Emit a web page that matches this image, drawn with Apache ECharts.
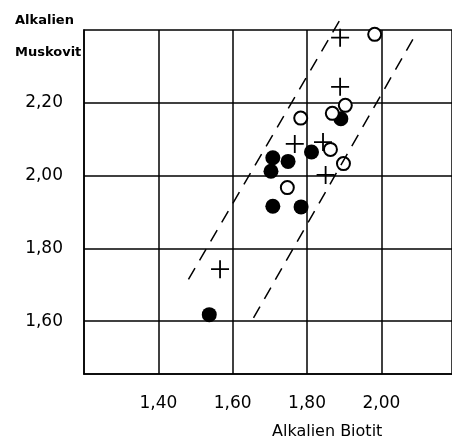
<!DOCTYPE html>
<html>
<head>
<meta charset="utf-8">
<script src="https://cdn.jsdelivr.net/npm/echarts@6/dist/echarts.min.js"></script>
<style>html,body{margin:0;padding:0;background:#fff}#c{width:452px;height:444px}</style>
</head>
<body>
<div id="c"></div>
<script>
// Tick values / labels
const xTicks = [1.4, 1.6, 1.8, 2.0];
const yTicks = [1.6, 1.8, 2.0, 2.2];
const xGridLines = [1.4, 1.6, 1.8, 2.0];
const yGridLines = [1.6, 1.8, 2.0, 2.2];

// Filled circles (x = Alkalien Biotit, y = Alkalien Muskovit)
const filledX = [1.537, 1.708, 1.703, 1.749, 1.812, 1.891, 1.708, 1.784];
const filledY = [1.618, 2.049, 2.012, 2.039, 2.065, 2.156, 1.916, 1.914];

// Open circles
const openX = [1.982, 1.783, 1.868, 1.903, 1.863, 1.898, 1.747];
const openY = [2.388, 2.158, 2.171, 2.193, 2.072, 2.033, 1.967];

// Plus markers
const plusX = [1.889, 1.889, 1.767, 1.843, 1.850, 1.566];
const plusY = [2.379, 2.244, 2.087, 2.092, 2.002, 1.743];

// Dashed boundary lines (end points)
const leftLineX = [1.481, 1.887];
const leftLineY = [1.715, 2.425];
const rightLineX = [1.656, 2.085];
const rightLineY = [1.609, 2.375];

const zip = (xs, ys) => xs.map((x, i) => [x, ys[i]]);
const fmt = v => v.toFixed(2).replace('.', ',');

const chart = echarts.init(document.getElementById('c'), null, {renderer: 'canvas'});
const labelFont = {fontFamily: 'DejaVu Sans', fontSize: 17, color: '#000'};
const lineCol = '#000';

const option = {
  backgroundColor: '#fff',
  animation: false,
  grid: {left: 84, top: 30, right: 0, bottom: 70, show: true, borderColor: lineCol, borderWidth: 1.5, backgroundColor: 'transparent'},
  xAxis: {
    type: 'value', min: 1.2, max: 2.19,
    axisLine: {show: true, lineStyle: {color: lineCol, width: 1.5}},
    axisTick: {show: false, customValues: xGridLines},
    axisLabel: Object.assign({margin: 21, customValues: xTicks, formatter: fmt}, labelFont),
    splitLine: {show: true, lineStyle: {color: lineCol, width: 1.5}}
  },
  yAxis: {
    type: 'value', min: 1.455, max: 2.40,
    axisLine: {show: true, lineStyle: {color: lineCol, width: 1.5}},
    axisTick: {show: false, customValues: yGridLines},
    axisLabel: Object.assign({margin: 21, customValues: yTicks, formatter: fmt}, labelFont),
    splitLine: {show: true, lineStyle: {color: lineCol, width: 1.5}}
  },
  graphic: [
    {type: 'text', left: 15, top: 14, style: {text: 'Alkalien', fontFamily: 'DejaVu Sans', fontSize: 13, fontWeight: 'bold', fill: '#000', letterSpacing: 0.3}},
    {type: 'text', left: 15, top: 46, style: {text: 'Muskovit', fontFamily: 'DejaVu Sans', fontSize: 13, fontWeight: 'bold', fill: '#000', letterSpacing: 0.3}},
    {type: 'text', left: 272, top: 424, style: {text: 'Alkalien Biotit', fontFamily: 'DejaVu Sans', fontSize: 16, fill: '#000', letterSpacing: 1.3}}
  ],
  series: [
    {type: 'line', data: zip(leftLineX, leftLineY), clip: false, symbol: 'none', silent: true,
     lineStyle: {color: lineCol, width: 1.5, type: [13, 9], opacity: 1}},
    {type: 'line', data: zip(rightLineX, rightLineY), clip: false, symbol: 'none', silent: true,
     lineStyle: {color: lineCol, width: 1.5, type: [13, 9], opacity: 1}},
    {type: 'scatter', data: zip(filledX, filledY), symbol: 'circle', symbolSize: 15, clip: false,
     itemStyle: {color: '#000', opacity: 1}},
    {type: 'scatter', data: zip(openX, openY), symbol: 'circle', symbolSize: 13, clip: false,
     itemStyle: {color: '#fff', borderColor: '#000', borderWidth: 2, opacity: 1}},
    {type: 'scatter', data: zip(plusX, plusY), symbol: 'path://M0,9H20V11H0Z M9,0H11V20H9Z', symbolSize: 18, clip: false,
     itemStyle: {color: '#000', opacity: 1}}
  ]
};
chart.setOption(option);
</script>
</body>
</html>
